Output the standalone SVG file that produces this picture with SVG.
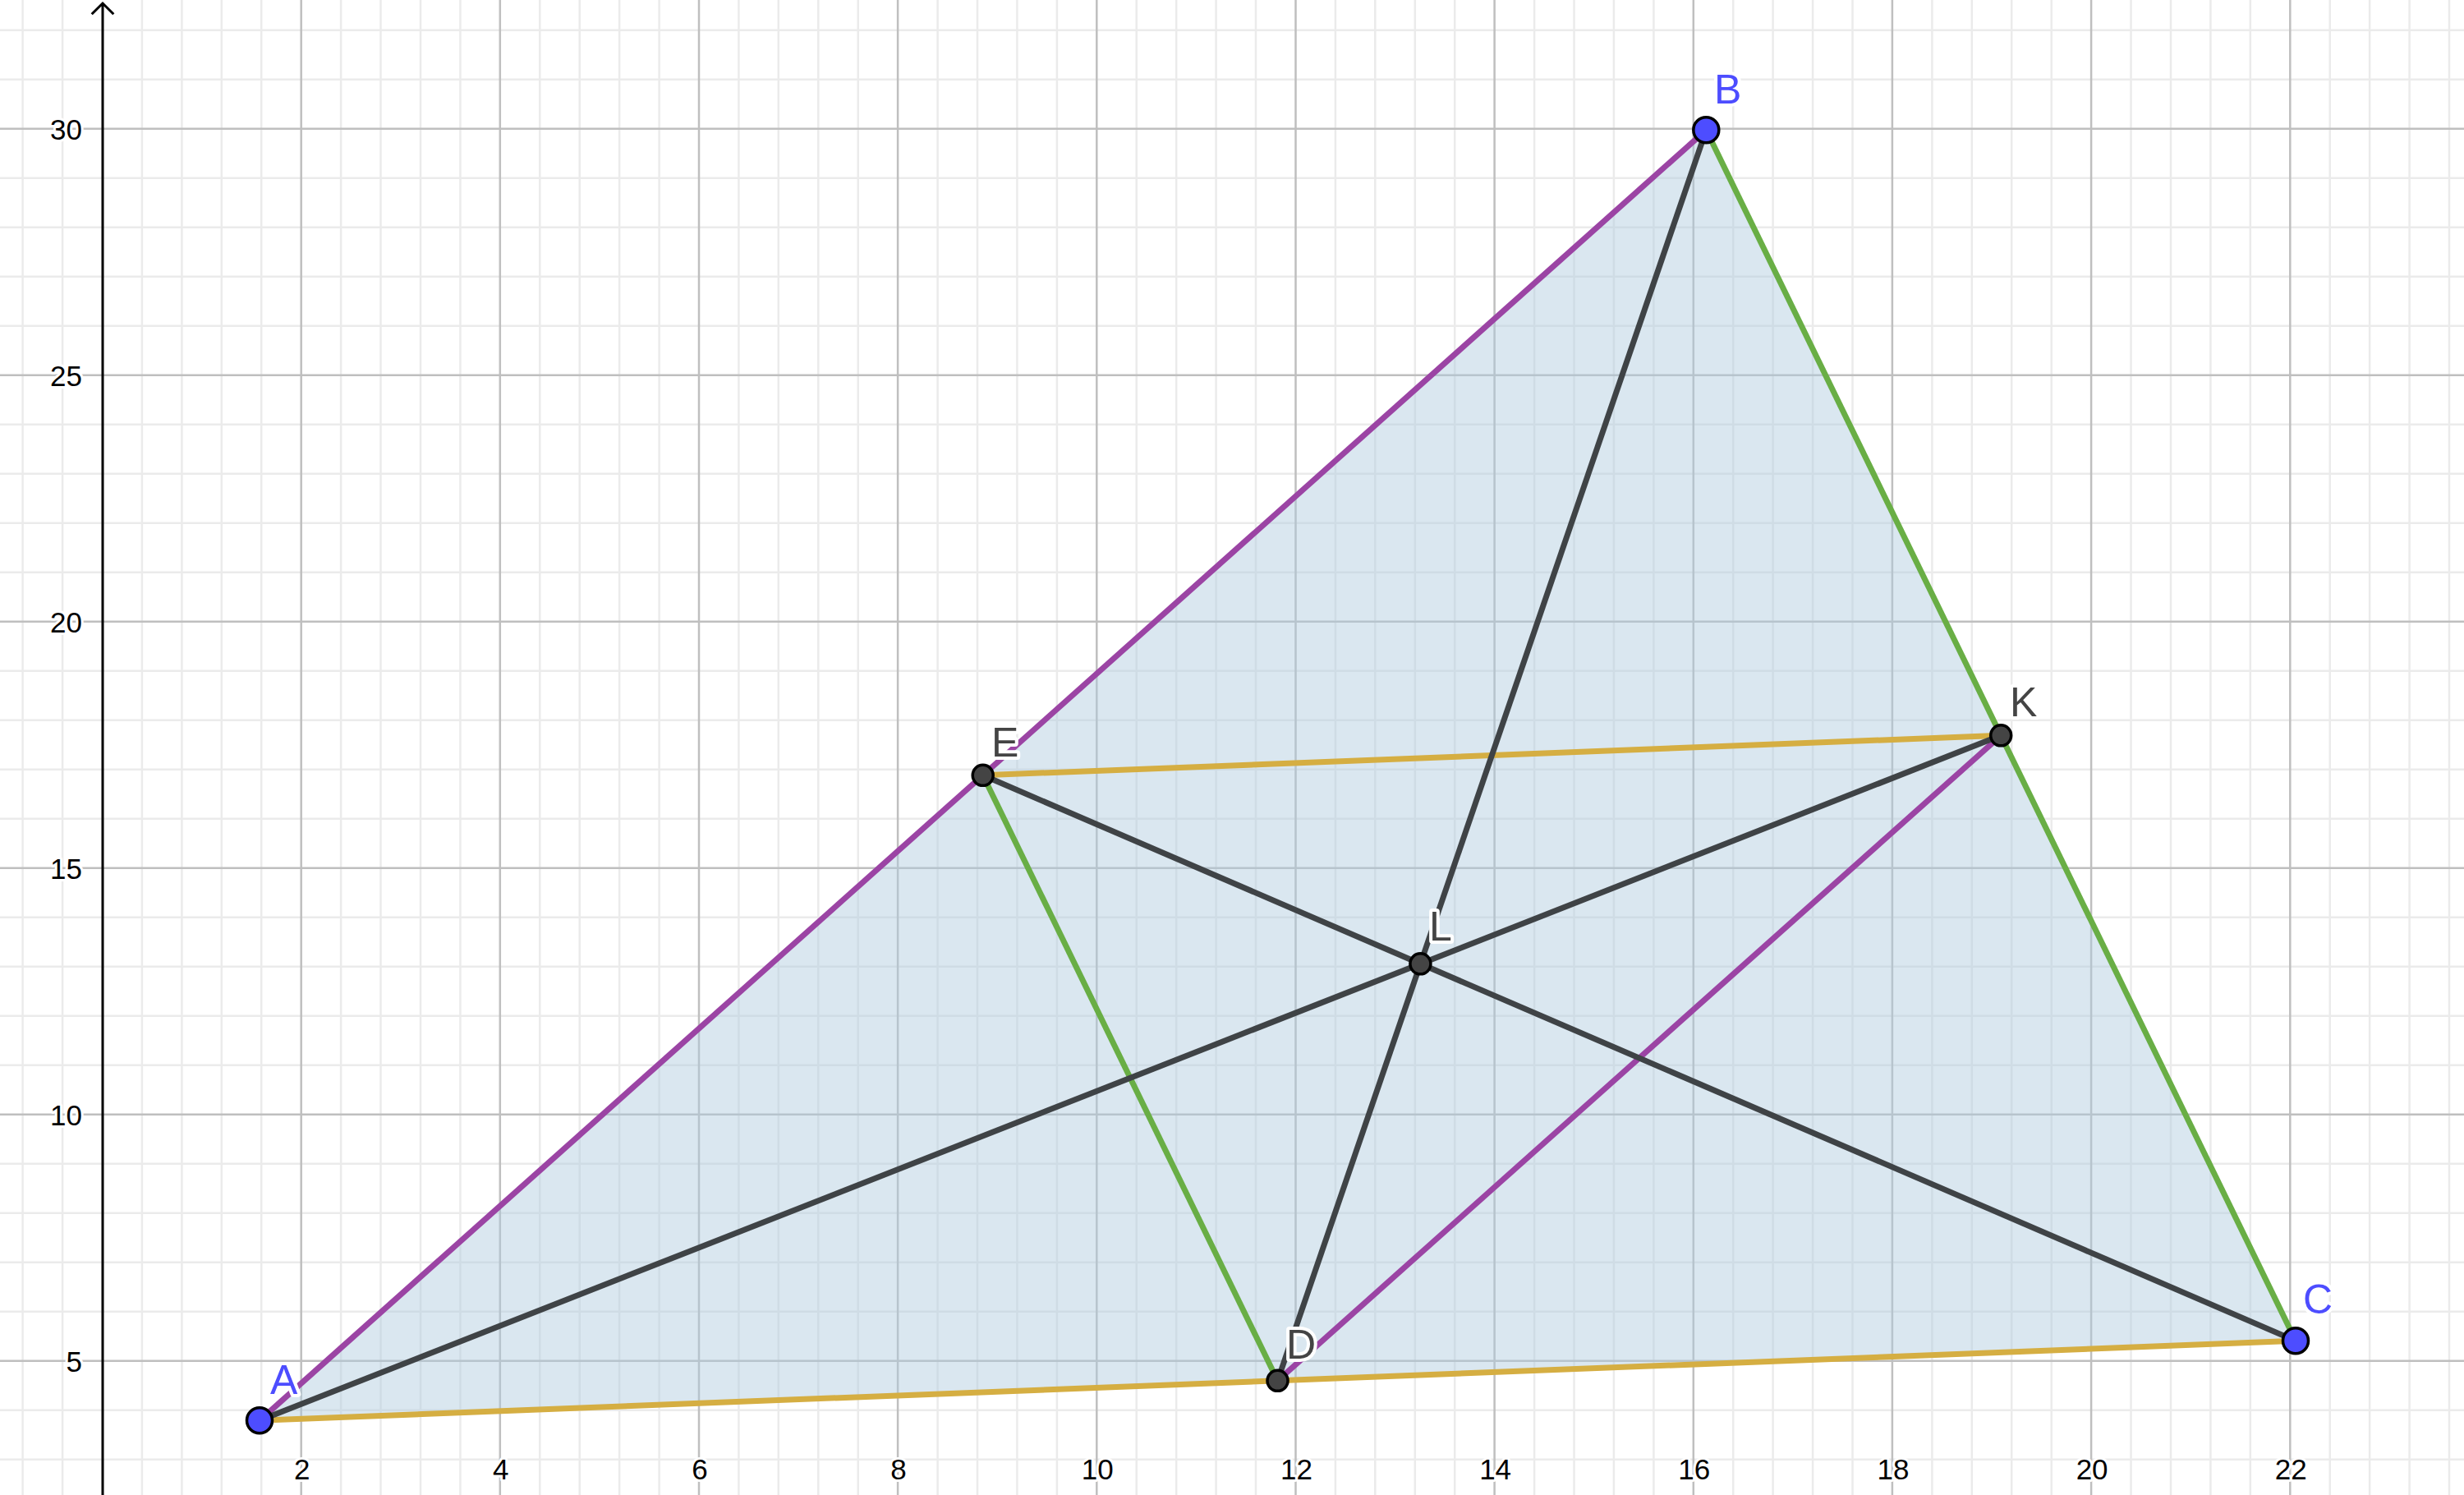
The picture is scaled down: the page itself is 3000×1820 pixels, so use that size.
<svg xmlns="http://www.w3.org/2000/svg" width="3000" height="1820" viewBox="0 0 3000 1820">
<style>
.minor{stroke:#ebebeb;stroke-width:2.5;fill:none}
.major{stroke:#bfbfbf;stroke-width:2.5;fill:none}
.tick{font-family:"Liberation Sans",Arial,sans-serif;font-size:35px;fill:#000;stroke:#fff;stroke-width:6px;paint-order:stroke;stroke-linejoin:round}
.seg{stroke-width:7;fill:none;stroke-linecap:butt}
.purple{stroke:#9b44a4}
.green{stroke:#69ae45}
.gold{stroke:#d5ae42}
.dark{stroke:#3f4346}
.pb{fill:#4d4dff;stroke:#000;stroke-width:3.5}
.pd{fill:#444;stroke:#000;stroke-width:3.5}
.lab{font-family:"Liberation Sans",Arial,sans-serif;font-size:50px;stroke:#fff;stroke-width:8px;paint-order:stroke;stroke-linejoin:round}
.lb{fill:#4d4dff}
.ld{fill:#444}
</style>
<rect width="3000" height="1820" fill="#fff"/>
<g id="grid">
<path class="minor" d="M27.6 0V1820M76.1 0V1820M172.9 0V1820M221.4 0V1820M269.8 0V1820M318.2 0V1820M415.1 0V1820M463.5 0V1820M512 0V1820M560.4 0V1820M657.3 0V1820M705.7 0V1820M754.1 0V1820M802.6 0V1820M899.4 0V1820M947.8 0V1820M996.3 0V1820M1044.7 0V1820M1141.6 0V1820M1190 0V1820M1238.4 0V1820M1286.9 0V1820M1383.7 0V1820M1432.2 0V1820M1480.6 0V1820M1529 0V1820M1625.9 0V1820M1674.3 0V1820M1722.8 0V1820M1771.2 0V1820M1868.1 0V1820M1916.5 0V1820M1964.9 0V1820M2013.4 0V1820M2110.2 0V1820M2158.6 0V1820M2207.1 0V1820M2255.5 0V1820M2352.4 0V1820M2400.8 0V1820M2449.2 0V1820M2497.7 0V1820M2594.5 0V1820M2643 0V1820M2691.4 0V1820M2739.8 0V1820M2836.7 0V1820M2885.1 0V1820M2933.6 0V1820M2982 0V1820"/>
<path class="minor" d="M0 36.7H3000M0 96.7H3000M0 216.7H3000M0 276.7H3000M0 336.7H3000M0 396.7H3000M0 516.7H3000M0 576.7H3000M0 636.7H3000M0 696.7H3000M0 816.7H3000M0 876.7H3000M0 936.7H3000M0 996.7H3000M0 1116.7H3000M0 1176.7H3000M0 1236.7H3000M0 1296.7H3000M0 1416.7H3000M0 1476.7H3000M0 1536.7H3000M0 1596.7H3000M0 1716.7H3000M0 1776.7H3000"/>
<path class="major" d="M366.7 0V1820M608.8 0V1820M851 0V1820M1093.1 0V1820M1335.3 0V1820M1577.5 0V1820M1819.6 0V1820M2061.8 0V1820M2303.9 0V1820M2546.1 0V1820M2788.3 0V1820M0 156.7H3000M0 456.7H3000M0 756.7H3000M0 1056.7H3000M0 1356.7H3000M0 1656.7H3000"/>
</g>
<g id="axis">
<path d="M125 4V1820M111.7 17.3L125 4L138.3 17.3" stroke="#000" stroke-width="3" fill="none"/>
<g text-anchor="end">
<text class="tick" x="100" y="169.5">30</text>
<text class="tick" x="100" y="469.5">25</text>
<text class="tick" x="100" y="769.5">20</text>
<text class="tick" x="100" y="1069.5">15</text>
<text class="tick" x="100" y="1369.5">10</text>
<text class="tick" x="100" y="1669.5">5</text>
</g>
<g text-anchor="middle">
<text class="tick" x="367.7" y="1801">2</text>
<text class="tick" x="609.8" y="1801">4</text>
<text class="tick" x="852" y="1801">6</text>
<text class="tick" x="1094.1" y="1801">8</text>
<text class="tick" x="1336.3" y="1801">10</text>
<text class="tick" x="1578.5" y="1801">12</text>
<text class="tick" x="1820.6" y="1801">14</text>
<text class="tick" x="2062.8" y="1801">16</text>
<text class="tick" x="2304.9" y="1801">18</text>
<text class="tick" x="2547.1" y="1801">20</text>
<text class="tick" x="2789.3" y="1801">22</text>
</g>
</g>
<g id="triangle">
<polygon points="316,1729.3 2077.3,158.3 2795,1632.3" fill="#adc9de" fill-opacity="0.45"/>
</g>
<g id="connectors">
<line class="seg gold" x1="316" y1="1729.3" x2="2795" y2="1632.3"/>
<line class="seg gold" x1="1196.7" y1="943.8" x2="2436.2" y2="895.3"/>
<line class="seg green" x1="2077.3" y1="158.3" x2="2795" y2="1632.3"/>
<line class="seg green" x1="1196.7" y1="943.8" x2="1555.5" y2="1680.8"/>
<line class="seg purple" x1="316" y1="1729.3" x2="2077.3" y2="158.3"/>
<line class="seg purple" x1="1555.5" y1="1680.8" x2="2436.2" y2="895.3"/>
<line class="seg dark" x1="316" y1="1729.3" x2="2436.2" y2="895.3"/>
<line class="seg dark" x1="2077.3" y1="158.3" x2="1555.5" y2="1680.8"/>
<line class="seg dark" x1="2795" y1="1632.3" x2="1196.7" y2="943.8"/>
</g>
<g id="A"><circle class="pb" cx="316" cy="1729.3" r="15.5"/><text class="lab lb" x="329" y="1697">A</text></g>
<g id="B"><circle class="pb" cx="2077.3" cy="158.3" r="15.5"/><text class="lab lb" x="2087" y="126">B</text></g>
<g id="C"><circle class="pb" cx="2795" cy="1632.3" r="15.5"/><text class="lab lb" x="2804" y="1599">C</text></g>
<g id="D"><circle class="pd" cx="1555.5" cy="1680.8" r="12.5"/><text class="lab ld" x="1566" y="1654">D</text></g>
<g id="E"><circle class="pd" cx="1196.7" cy="943.8" r="12.5"/><text class="lab ld" x="1207" y="921">E</text></g>
<g id="K"><circle class="pd" cx="2436.2" cy="895.3" r="12.5"/><text class="lab ld" x="2447" y="872">K</text></g>
<g id="L"><circle class="pd" cx="1729.4" cy="1173.3" r="12.5"/><text class="lab ld" x="1740" y="1145">L</text></g>
</svg>
